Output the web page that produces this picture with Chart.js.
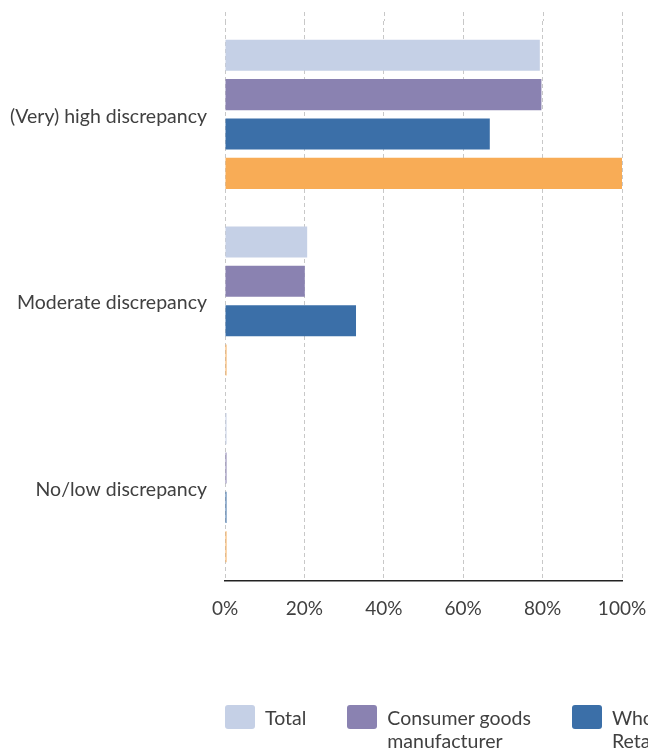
<!DOCTYPE html>
<html>
<head>
<meta charset="utf-8">
<script src="https://cdn.jsdelivr.net/npm/chart.js@4/dist/chart.umd.min.js"></script>
<style>
  html, body { margin: 0; padding: 0; background: #fff; overflow: hidden; }
  #wrap { position: relative; width: 648px; height: 749px; overflow: hidden; }
  #plot { position: absolute; left: 0; top: 0; width: 648px; height: 749px; }
  /* legend runs past the right edge, as in the original figure */
  #legend { position: absolute; left: 225px; top: 705px; display: flex; gap: 41px; white-space: nowrap; }
  #legend .item { display: flex; align-items: flex-start; }
  #legend .swatch { flex: none; width: 30px; height: 24px; border-radius: 3px; margin-right: 10px; }
  #legend .text { font: 19.5px Lato, sans-serif; line-height: 23px; color: #404040; white-space: pre; margin-top: 1px; }
</style>
</head>
<body>
<div id="wrap">
  <div id="plot"><canvas id="chart"></canvas></div>
  <div id="legend"></div>
</div>
<script>
// ---- data ----
const categories = ["(Very) high discrepancy", "Moderate discrepancy", "No/low discrepancy"];
const seriesNames = ["Total", ["Consumer goods", "manufacturer"], ["Wholesaler /", "Retailer"], ["Logistics service", "provider"]];
const totalValues = [79.3, 20.7, 0.2];
const manufacturerValues = [79.7, 20.1, 0.2];
const retailerValues = [66.7, 33.0, 0.3];
const providerValues = [100, 0.2, 0.2];
const xTicks = [0, 20, 40, 60, 80, 100];

const seriesValues = [totalValues, manufacturerValues, retailerValues, providerValues];
const seriesColors = ["#C5D0E6", "#8A82B1", "#3B6FA8", "#F8AC56"];

const TEXT = "#404040";
const GRID = "#c8c8c8";
const LABEL_FONT = { family: "Lato", size: 19.5 };
const TICK_FONT = { family: "Lato", size: 19 };

// html legend so the two-line labels get their natural width
const htmlLegend = {
  id: "htmlLegend",
  afterUpdate(chart) {
    const box = document.getElementById("legend");
    box.innerHTML = "";
    chart.data.datasets.forEach((ds) => {
      const item = document.createElement("div");
      item.className = "item";
      const sw = document.createElement("span");
      sw.className = "swatch";
      sw.style.background = ds.backgroundColor;
      const txt = document.createElement("span");
      txt.className = "text";
      txt.textContent = [].concat(ds.label).join("\n");
      item.appendChild(sw);
      item.appendChild(txt);
      box.appendChild(item);
    });
  },
};

// grid lines in the original poke a bit above the plot area
const gridTop = {
  id: "gridTop",
  beforeDatasetsDraw(chart) {
    const { ctx, chartArea, scales } = chart;
    ctx.save();
    ctx.strokeStyle = GRID;
    ctx.lineWidth = 1;
    ctx.setLineDash([4, 3]);
    scales.x.ticks.forEach((t) => {
      const x = Math.round(scales.x.getPixelForValue(t.value)) + 0.5;
      ctx.beginPath();
      ctx.moveTo(x, chartArea.top - 9);
      ctx.lineTo(x, chartArea.top);
      ctx.stroke();
    });
    ctx.restore();
  },
};

new Chart(document.getElementById("chart"), {
  type: "bar",
  data: {
    labels: categories,
    datasets: seriesValues.map((vals, i) => ({
      label: seriesNames[i],
      data: vals,
      backgroundColor: seriesColors[i],
      borderWidth: 0,
      minBarLength: 1.5,
      categoryPercentage: 0.843,
      barPercentage: 0.79,
    })),
  },
  options: {
    indexAxis: "y",
    responsive: true,
    maintainAspectRatio: false,
    animation: false,
    layout: { padding: { top: 21, right: 26, bottom: 84, left: 8 } },
    plugins: {
      tooltip: { enabled: false },
      legend: { display: false },
    },
    scales: {
      x: {
        min: 0,
        max: 100,
        afterBuildTicks: (s) => { s.ticks = xTicks.map((v) => ({ value: v })); },
        afterFit: (s) => { s.height = 84; s.paddingLeft = 0; s.paddingRight = 0; },
        ticks: { color: TEXT, font: TICK_FONT, padding: 16, callback: (v) => v + "%" },
        grid: { color: GRID, lineWidth: 1, drawTicks: false },
        border: { display: true, color: "#222", width: 1.5, dash: [4, 3] },
      },
      y: {
        afterFit: (s) => { s.width = 217; s.paddingTop = 0; s.paddingBottom = 0; },
        ticks: { color: TEXT, font: LABEL_FONT, padding: 18, labelOffset: 2 },
        grid: { display: false, drawTicks: false },
        border: { display: false },
      },
    },
  },
  plugins: [htmlLegend, gridTop],
});
</script>
</body>
</html>
